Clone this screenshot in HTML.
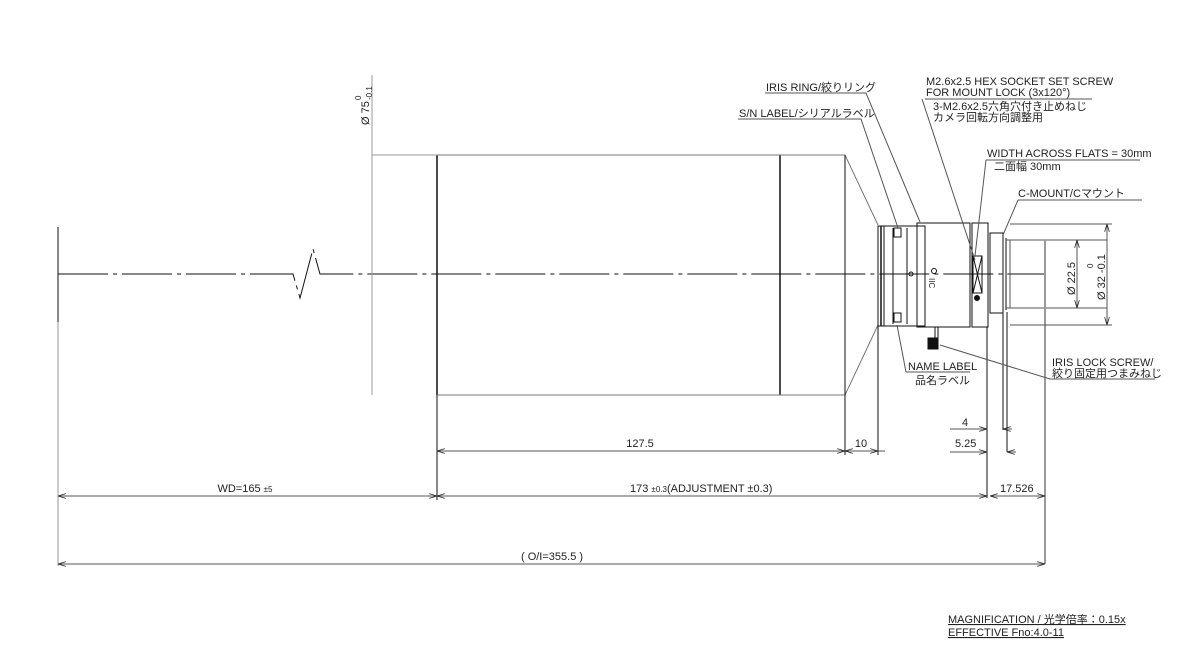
<!DOCTYPE html>
<html><head><meta charset="utf-8"><style>
body{margin:0;background:#fff}
svg{display:block}
text{font-family:"Liberation Sans","Noto Sans CJK JP",sans-serif;font-size:11px;fill:#222}
</style></head><body>
<svg width="1181" height="647" viewBox="0 0 1181 647" xmlns="http://www.w3.org/2000/svg">
<defs>
<marker id="a" viewBox="0 0 10 6" refX="10" refY="3" markerWidth="8" markerHeight="5" orient="auto-start-reverse"><path d="M0,0L10,3L0,6" fill="none" stroke="#222" stroke-width="1"/></marker>
</defs>
<g fill="none" stroke="#111" stroke-width="1">
<path d="M58,274H293L300,298L313,249L320,274H1045" stroke-dasharray="50,5,4,5"/>
<line x1="58" y1="227" x2="58" y2="322"/>
<line x1="437" y1="155" x2="437" y2="395" stroke-width="1.5"/>
<line x1="780" y1="155" x2="780" y2="395" stroke-width="1.5"/>
<path d="M437,155H845L878,225M437,395H845L878,325" stroke="#777"/>
<line x1="845" y1="155" x2="845" y2="455"/>
<rect x="878" y="226" width="47" height="100"/>
<line x1="881" y1="226" x2="881" y2="326" stroke-width="1.5"/>
<line x1="884" y1="226" x2="884" y2="326"/>
<line x1="893" y1="228" x2="893" y2="324"/>
<line x1="907" y1="228" x2="907" y2="324"/>
<rect x="894" y="228" width="7" height="9"/>
<rect x="894" y="313" width="7" height="9"/>
<circle cx="911" cy="274" r="2"/>
<rect x="917" y="223" width="53" height="104"/>
<rect x="972" y="223" width="16" height="104"/>
<rect x="973" y="256" width="9" height="37"/>
<path d="M973,256L982,293M982,256L973,293"/>
<circle cx="977" cy="298" r="2.5" fill="#111"/>
<circle cx="934" cy="271" r="2.5"/>
<line x1="935" y1="327" x2="935" y2="338"/><line x1="938" y1="327" x2="938" y2="338"/>
<rect x="928" y="338" width="10" height="11" fill="#111"/>
<rect x="990" y="233" width="13" height="80"/>
<path d="M1003,238V310M1006,238V310"/>
<path d="M1006,240H1107M1006,308H1107" stroke="#555"/>
<path d="M1010,240V308" stroke="#555"/>
<line x1="1045" y1="240" x2="1045" y2="564" stroke="#999" stroke-width="2"/>
<line x1="987" y1="327" x2="987" y2="498"/>
<line x1="1003" y1="312" x2="1003" y2="430"/>
<line x1="1007" y1="312" x2="1007" y2="452"/>
<line x1="878" y1="326" x2="878" y2="455"/>
<line x1="437" y1="395" x2="437" y2="500"/>
</g>
<text transform="translate(929,278) rotate(90)" style="font-size:8px">IIC</text>
<g stroke="#999" fill="none"><line x1="372" y1="75" x2="372" y2="395"/><line x1="372" y1="155" x2="437" y2="155"/><line x1="58" y1="322" x2="58" y2="566"/></g>
<text transform="translate(369,125) rotate(-90)">Ø 75</text>
<text transform="translate(361,100) rotate(-90)" style="font-size:8px">0</text>
<text transform="translate(372,100) rotate(-90)" style="font-size:8px">-0.1</text>
<g stroke="#555" fill="none" stroke-width="1">
<line x1="437" y1="451" x2="845" y2="451" marker-start="url(#a)" marker-end="url(#a)"/>
<line x1="845" y1="451" x2="878" y2="451" marker-start="url(#a)" marker-end="url(#a)"/>
<line x1="878" y1="451" x2="885" y2="451"/>
<line x1="950" y1="429" x2="987" y2="429" marker-end="url(#a)"/><line x1="1003" y1="429" x2="1012" y2="429" marker-start="url(#a)"/>
<line x1="950" y1="452" x2="987" y2="452" marker-end="url(#a)"/><line x1="1007" y1="452" x2="1016" y2="452" marker-start="url(#a)"/>
<line x1="58" y1="496" x2="437" y2="496" marker-start="url(#a)" marker-end="url(#a)"/>
<line x1="437" y1="496" x2="987" y2="496" marker-start="url(#a)" marker-end="url(#a)"/>
<line x1="990" y1="496" x2="1045" y2="496" marker-start="url(#a)" marker-end="url(#a)"/>
<line x1="58" y1="564" x2="1045" y2="564" marker-start="url(#a)" marker-end="url(#a)"/>
<line x1="1077" y1="240" x2="1077" y2="308" marker-start="url(#a)" marker-end="url(#a)"/>
<line x1="1107" y1="224" x2="1107" y2="325" marker-start="url(#a)" marker-end="url(#a)"/>
<line x1="1010" y1="224" x2="1112" y2="224"/><line x1="1010" y1="325" x2="1112" y2="325"/>
</g>
<text x="640" y="447" text-anchor="middle">127.5</text>
<text x="861" y="447" text-anchor="middle">10</text>
<text x="962" y="426">4</text>
<text x="955" y="447">5.25</text>
<text x="1000" y="492">17.526</text>
<text x="245" y="492" text-anchor="middle">WD=165 <tspan style="font-size:8px">±5</tspan></text>
<text x="630" y="492">173 <tspan style="font-size:8px">±0.3</tspan>(ADJUSTMENT ±0.3)</text>
<text x="552" y="560" text-anchor="middle">( O/I=355.5 )</text>
<text transform="translate(1075,295) rotate(-90)">Ø 22.5</text>
<text transform="translate(1105,300) rotate(-90)">Ø 32 -0.1</text>
<text transform="translate(1093,268) rotate(-90)" style="font-size:8px">0</text>
<g stroke="#555" fill="none">
<path d="M765,93H866L920,222"/>
<path d="M738,119H861L898,228"/>
<path d="M925,99H1092M922,99L975,260"/>
<path d="M986,160H1140M986,160L975,256"/>
<path d="M1018,200H1142M1018,200L1003,235"/>
<path d="M906,372H970M906,372L897,325"/>
<path d="M1050,379H1155M1050,379L940,345"/>
</g>
<text x="766" y="91">IRIS RING/絞りリング</text>
<text x="739" y="117">S/N LABEL/シリアルラベル</text>
<text x="926" y="85">M2.6x2.5 HEX SOCKET SET SCREW</text>
<text x="926" y="96">FOR MOUNT LOCK (3x120°)</text>
<text x="933" y="110">3-M2.6x2.5六角穴付き止めねじ</text>
<text x="933" y="121">カメラ回転方向調整用</text>
<text x="987" y="157">WIDTH ACROSS FLATS = 30mm</text>
<text x="994" y="170">二面幅 30mm</text>
<text x="1018" y="197">C-MOUNT/Cマウント</text>
<text x="908" y="370">NAME LABEL</text>
<text x="915" y="384">品名ラベル</text>
<text x="1052" y="366">IRIS LOCK SCREW/</text>
<text x="1052" y="377">絞り固定用つまみねじ</text>
<text x="948" y="623" style="font-size:11px;text-decoration:underline">MAGNIFICATION / 光学倍率：0.15x</text>
<text x="948" y="636" style="font-size:11px;text-decoration:underline">EFFECTIVE Fno:4.0-11</text>
</svg>
</body></html>
